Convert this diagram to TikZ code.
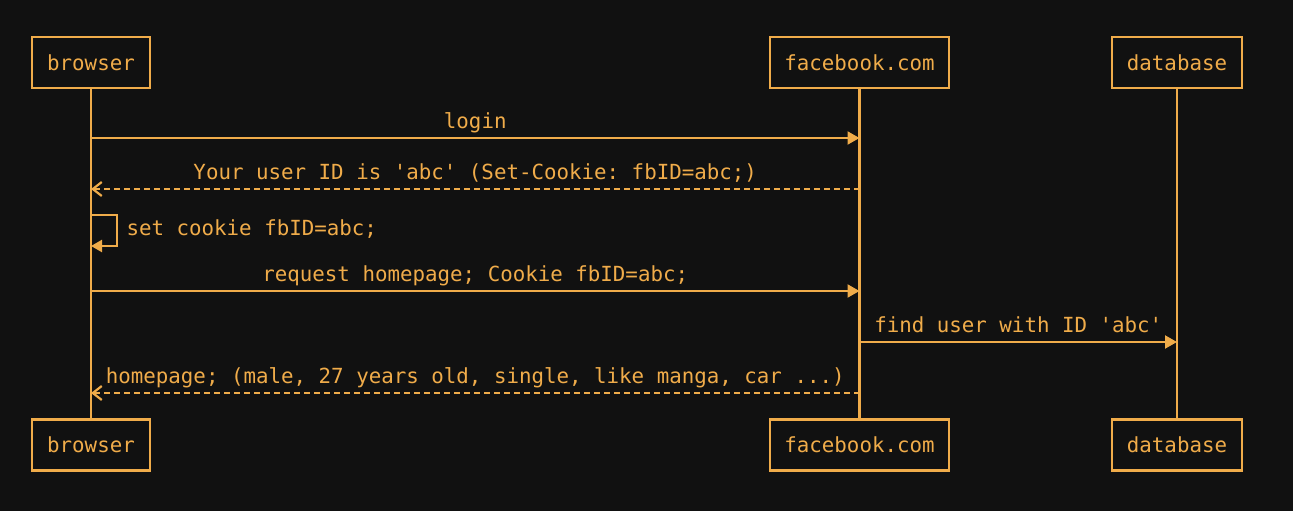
\documentclass[tikz,border=0pt]{standalone}
\usepackage{fontspec}
\setmonofont{DejaVu Sans Mono}
\usepackage{xcolor}
\usepackage{tikz}
\usetikzlibrary{arrows.meta}
\definecolor{amber}{RGB}{240,172,74}
\definecolor{night}{RGB}{17,17,17}

\begin{document}
\begin{tikzpicture}[x=1pt,y=-1pt,
        txt/.style={text=amber,font=\ttfamily\fontsize{20.8}{25}\selectfont},
        actor/.style={txt,draw=amber,line width=2.4pt,minimum height=51pt,inner sep=0pt},
        life/.style={draw=amber,line width=2.4pt},
        msg/.style={draw=amber,line width=2.2pt,-{Triangle[length=12pt,width=13pt]}},
        reply/.style={draw=amber,line width=2.2pt,dash pattern=on 6pt off 4pt,-{Straight Barb[length=9pt,width=14pt]}},
        lbl/.style={txt,anchor=base,yshift=10pt}]
        \fill [night] (0,0) rectangle (1293,511);
        \useasboundingbox (0,0) rectangle (1293,511);
        % participants
        \node [actor,minimum width=118pt] (br) at (91,62.5) {browser};
        \node [actor,minimum width=179pt] (fb) at (859.5,62.5) {facebook.com};
        \node [actor,minimum width=130pt] (db) at (1177,62.5) {database};
        \node [actor,minimum width=118pt] (br2) at (91,445) {browser};
        \node [actor,minimum width=179pt] (fb2) at (859.5,445) {facebook.com};
        \node [actor,minimum width=130pt] (db2) at (1177,445) {database};
        % lifelines
        \draw [life] (br) -- (br2);
        \draw [life] (fb) -- (fb2);
        \draw [life] (db) -- (db2);
        % messages
        \draw [msg] (br |- 0,138) -- node [lbl] {login} (fb |- 0,138);
        \draw [reply] (fb |- 0,189) -- node [lbl] {Your user ID is 'abc' (Set-Cookie: fbID=abc;)} (br |- 0,189);
        \coordinate (loop) at (117,246);
        \draw [msg,-{Triangle[length=11pt,width=12pt]}] (br |- 0,215) -| (loop) -- (br |- loop);
        \node [txt,anchor=base west] (loopl) at (123,235) {set cookie fbID=abc;};
        \draw [msg] (br |- 0,291) -- node [lbl] {request homepage; Cookie fbID=abc;} (fb |- 0,291);
        \draw [msg] (fb |- 0,342) -- node [lbl] {find user with ID 'abc'} (db |- 0,342);
        \draw [reply] (fb |- 0,393) -- node [lbl] {homepage; (male, 27 years old, single, like manga, car ...)} (br |- 0,393);
    \end{tikzpicture}
\end{document}
